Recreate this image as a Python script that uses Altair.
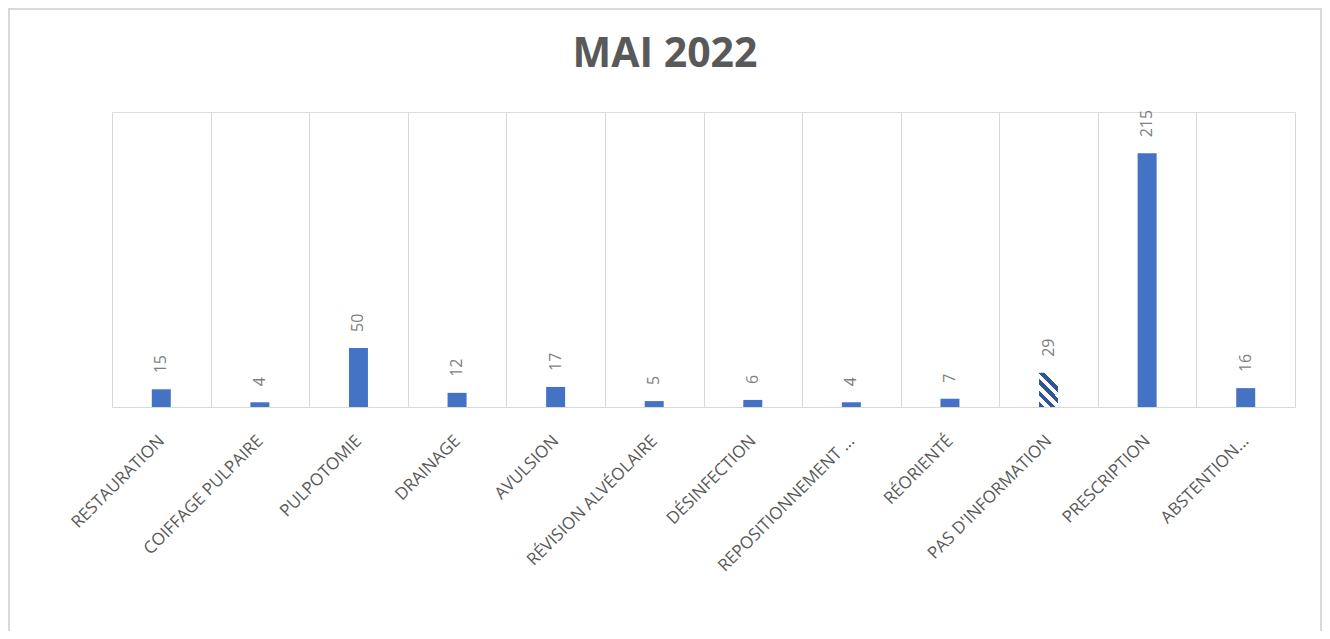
import altair as alt
import pandas as pd

categories = [
    "RESTAURATION", "COIFFAGE PULPAIRE", "PULPOTOMIE", "DRAINAGE", "AVULSION",
    "RÉVISION ALVÉOLAIRE", "DÉSINFECTION", "REPOSITIONNEMENT ...", "RÉORIENTÉ",
    "PAS D'INFORMATION", "PRESCRIPTION", "ABSTENTION...",
]
values = [15, 4, 50, 12, 17, 5, 6, 4, 7, 29, 215, 16]
patterned = "PAS D'INFORMATION"
title_text = "MAI 2022"

df = pd.DataFrame({"cat": categories, "val": values})

W, H = 1183, 295
FONT = "Open Sans"

x_enc = alt.X(
    "cat:N", sort=categories, title=None,
    scale=alt.Scale(paddingInner=0, paddingOuter=0),
    axis=alt.Axis(
        labelAngle=-45, labelAlign="right", labelBaseline="middle",
        labelPadding=31, labelFontSize=17, labelFont=FONT, labelColor="#595959",
        labelLimit=0, ticks=False, grid=True, gridColor="#D9D9D9", gridWidth=1,
        tickBand="extent", domainColor="#D9D9D9", domainWidth=1,
    ),
)
y_enc = alt.Y("val:Q", scale=alt.Scale(domain=[0, 250]), axis=None)

base = alt.Chart(df)

bars = base.mark_bar(size=19, color="#4472C4").encode(x=x_enc, y=y_enc).transform_filter(
    alt.FieldOneOfPredicate(field="cat", oneOf=[c for c in categories if c != patterned])
)

# striped fill for the patterned bar
stops = []
n = 5
for i in range(n):
    a = i / n * 1.25
    b = (i + 0.5) / n * 1.25
    c = (i + 1) / n * 1.25
    stops += [
        alt.GradientStop(offset=min(a, 1), color="#2F5597"),
        alt.GradientStop(offset=min(b, 1), color="#2F5597"),
        alt.GradientStop(offset=min(b, 1), color="#FFFFFF"),
        alt.GradientStop(offset=min(c, 1), color="#FFFFFF"),
    ]
grad = alt.LinearGradient(gradient="linear", stops=stops, x1=0, y1=1, x2=0.56, y2=0)

pbar = base.mark_bar(size=19, color=grad).encode(x=x_enc, y=y_enc).transform_filter(
    alt.FieldEqualPredicate(field="cat", equal=patterned)
)

labels = base.mark_text(
    angle=270, align="left", baseline="middle", dx=16,
    fontSize=16, font=FONT, color="#7F7F7F",
).encode(x=x_enc, y=y_enc, text="val:Q")

one = alt.Chart(pd.DataFrame({"t": [title_text]}))
title = one.mark_text(
    fontSize=41, font=FONT, fontWeight="bold", color="#595959",
    align="center", baseline="alphabetic",
).encode(x=alt.value(553), y=alt.value(-45), text="t:N")

border_color = "#D9D9D9"
left_b = one.mark_rule(color=border_color, strokeWidth=2).encode(
    x=alt.value(-103), y=alt.value(-104), y2=alt.value(H + 230))
top_b = one.mark_rule(color=border_color, strokeWidth=2).encode(
    x=alt.value(-104), x2=alt.value(1210), y=alt.value(-103))
right_b = one.mark_rule(color=border_color, strokeWidth=2).encode(
    x=alt.value(1209), y=alt.value(-104), y2=alt.value(H + 230))

chart = alt.layer(bars, pbar, labels, title, left_b, top_b, right_b).properties(
    width=W, height=H,
    autosize=alt.AutoSizeParams(type="none"),
    padding={"left": 104, "top": 104, "right": 27, "bottom": 224},
).configure_view(stroke=None).configure(background="white")

chart.save("out.html", embed_options={"renderer": "svg", "actions": False})
